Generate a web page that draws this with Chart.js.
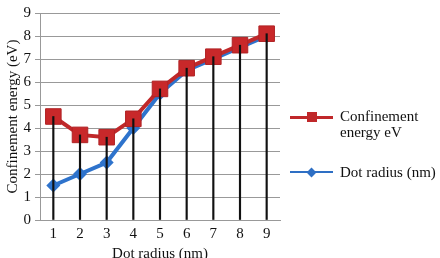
<!DOCTYPE html>
<html>
<head>
<meta charset="utf-8">
<script src="https://cdn.jsdelivr.net/npm/chart.js@4"></script>
<style>
    body { margin: 0; overflow: hidden; background: #fff; }
    #wrap { position: relative; width: 440px; height: 258px; overflow: hidden; }
    #legend { position: absolute; left: 290px; top: 0; font-family: 'Liberation Serif', serif; font-size: 15px; color: #111; }
    .item { position: absolute; left: 0; width: 150px; }
    .item .ln { position: absolute; left: 0; width: 43px; }
    .item .mk { position: absolute; }
    .item .tx { position: absolute; left: 50px; line-height: 16px; white-space: nowrap; }
</style>
</head>
<body>
<div id="wrap">
    <canvas id="chart" width="440" height="263"></canvas>
    <div id="legend">
        <div class="item" style="top:117px">
            <div class="ln" style="top:-1.5px;height:3px;background:#c0282a"></div>
            <div class="mk" style="left:17px;top:-5px;width:10px;height:10px;background:#c0282a"></div>
            <div class="tx" style="top:-9px">Confinement<br>energy eV</div>
        </div>
        <div class="item" style="top:172px">
            <div class="ln" style="top:-1px;height:2px;background:#2e6fc4"></div>
            <div class="mk" style="left:18px;top:-3.5px;width:7px;height:7px;background:#2e6fc4;transform:rotate(45deg)"></div>
            <div class="tx" style="top:-8px">Dot radius (nm)</div>
        </div>
    </div>
</div>
<script>
const radius = ['1', '2', '3', '4', '5', '6', '7', '8', '9'];
const energy = [4.5, 3.7, 3.6, 4.4, 5.7, 6.6, 7.1, 7.6, 8.1];
const dotRadius = [1.5, 2.0, 2.5, 4.0, 5.5, 6.5, 7.0, 7.5, 8.0];
const yTicks = [0, 1, 2, 3, 4, 5, 6, 7, 8, 9];

// drop lines go from the axis up to the higher point of each category
const drops = energy.map((v, i) => [0, Math.max(v, dotRadius[i])]);

const font = { family: "'Liberation Serif', serif", size: 15 };
const titleFont = { family: "'Liberation Serif', serif", size: 15 };

const ctx = document.getElementById('chart');

new Chart(ctx, {
    type: 'line',
    data: {
        labels: radius,
        datasets: [{
            label: 'Confinement energy eV',
            data: energy,
            borderColor: '#c0282a',
            backgroundColor: '#c8282a',
            borderWidth: 4,
            pointStyle: 'rect',
            pointRadius: 11,
            pointBorderColor: '#b02325',
            pointBorderWidth: 1,
            order: 0
        }, {
            label: 'Dot radius (nm)',
            data: dotRadius,
            borderColor: '#2e73cc',
            backgroundColor: '#2e73cc',
            borderWidth: 4,
            pointStyle: 'rectRot',
            pointRadius: 7,
            pointBorderWidth: 0,
            order: 1
        }, {
            type: 'bar',
            label: 'drop',
            data: drops,
            backgroundColor: '#111',
            barThickness: 1.5,
            order: -1
        }]
    },
    options: {
        responsive: false,
        animation: false,
        layout: { padding: { top: 10, right: 160, left: 0, bottom: 0 } },
        plugins: {
            legend: { display: false },
            tooltip: { enabled: false }
        },
        scales: {
            x: {
                offset: true,
                grid: { display: false, drawTicks: false },
                border: { display: true, color: '#999' },
                ticks: { font: font, color: '#111', padding: 5 },
                title: { display: true, text: 'Dot radius (nm)', font: titleFont, color: '#111', padding: 0 },
                afterFit: (s) => { s.height = 43; }
            },
            y: {
                min: 0,
                max: 9,
                afterBuildTicks: (s) => { s.ticks = yTicks.map(v => ({ value: v })); },
                grid: { color: '#999', tickLength: 5 },
                border: { display: true, color: '#999' },
                ticks: { font: font, color: '#111', padding: 4 },
                title: { display: true, text: 'Confinement energy (eV)', font: titleFont, color: '#111', padding: { top: 4, bottom: 0 } },
                afterFit: (s) => { s.width = 40; }
            }
        }
    }
});
</script>
</body>
</html>
